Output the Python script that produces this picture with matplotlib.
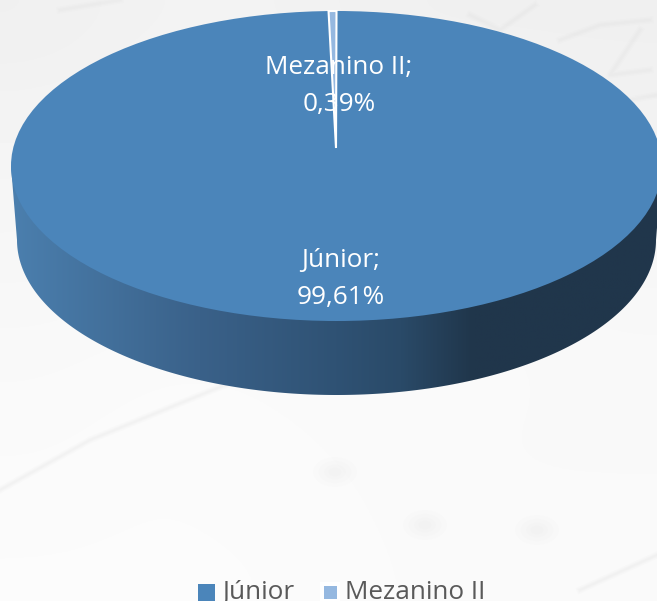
import numpy as np
import matplotlib
matplotlib.use('Agg')
import matplotlib.pyplot as plt
from matplotlib.colors import LinearSegmentedColormap
from matplotlib.patches import Ellipse, Polygon, Rectangle

categories = ['Júnior', 'Mezanino II']
shares = [99.61, 0.39]
share_labels = ['99,61%', '0,39%']

COLOR_JUNIOR = '#4b85ba'
COLOR_MEZ = '#95b8e0'
COLOR_TEXT = '#595959'

plt.rcParams['font.family'] = ['Open Sans', 'DejaVu Sans']

W, H = 657, 601
fig = plt.figure(figsize=(W / 100, H / 100), dpi=100)
ax = fig.add_axes([0, 0, 1, 1])
ax.axis('off')

# washed out paper background
bg = np.array([
    [0.94, 0.95, 0.95, 0.94, 0.94, 0.94],
    [0.96, 0.97, 0.97, 0.97, 0.96, 0.95],
    [0.965, 0.97, 0.97, 0.97, 0.97, 0.965],
    [0.975, 0.98, 0.98, 0.98, 0.98, 0.975],
    [0.98, 0.985, 0.98, 0.98, 0.975, 0.975],
    [0.985, 0.985, 0.985, 0.98, 0.98, 0.98],
])
ax.imshow(bg, cmap='gray', vmin=0, vmax=1, extent=[0, W, H, 0], aspect='auto',
          interpolation='bicubic', zorder=0)

# faint map strokes showing through the paper
strokes = [
    [(535, 5), (500, 30), (470, 15)],
    [(560, 40), (600, 25), (650, 20)],
    [(530, 45), (570, 70), (610, 110)],
    [(640, 30), (620, 60), (610, 75), (650, 70)],
    [(600, 130), (630, 100), (657, 95)],
    [(60, 10), (120, 0)],
    [(0, 490), (90, 440), (225, 385)],
    [(580, 590), (657, 555)],
]
for s in strokes:
    xs, ys = zip(*s)
    for lw in (5, 3, 1.5):
        ax.plot(xs, ys, color='#8c8c8c', alpha=0.018, lw=lw, zorder=0.5)
# soft smudges, built up from stacked ellipses
for bx, by in [(335, 472), (425, 525), (537, 530)]:
    for grow in (1.0, 0.75, 0.5, 0.3):
        ax.add_patch(Ellipse((bx, by), 44 * grow, 30 * grow, fc='#8c8c8c', ec='none',
                             alpha=0.012, zorder=0.5))

# pie geometry, in pixels
cx, cy, rx, ry = 336.5, 166, 325.5, 155
bot_cy, bot_rx = 240, 319.5
apex = (336, 148)

# side wall of the disc with horizontal gradient
t = np.linspace(np.pi, 0, 200)
side = np.column_stack([bot_rx * np.cos(t) + cx, ry * np.sin(t) + bot_cy])
side = np.vstack([[cx - rx, cy], side, [cx + rx, cy]])
side_cmap = LinearSegmentedColormap.from_list(
    'side', [(0, '#4b7fae'), (0.29, '#3a6189'), (0.5, '#2f5274'), (0.6, '#2a4a68'),
             (0.71, '#20364b'), (1, '#20364b')])
side_patch = Polygon(side, closed=True, fc='none', ec='none')
ax.add_patch(side_patch)
grad = ax.imshow(np.linspace(0, 1, 256)[None, :], cmap=side_cmap, aspect='auto',
                 extent=[cx - rx, cx + rx, 400, 160], zorder=1)
grad.set_clip_path(side_patch)
ax.set_xlim(0, W)
ax.set_ylim(H, 0)

# top face
ax.add_patch(Ellipse((cx, cy), 2 * rx, 2 * ry, fc=COLOR_JUNIOR, ec='none', zorder=2))

# Mezanino II slice ends at twelve o'clock
frac = shares[1] / sum(shares)
a = np.linspace(-2 * np.pi * frac, 0, 10)
rim = np.column_stack([cx + rx * np.sin(a), cy - ry * np.cos(a)])
ax.add_patch(Polygon(np.vstack([[apex], rim]), closed=True, fc=COLOR_MEZ, ec='white',
                     lw=1.5, zorder=3, joinstyle='miter'))

# data labels
ax.text(339, 86, f'{categories[1]};\n{share_labels[1]}', color='white', fontsize=18.8,
        ha='center', va='center', linespacing=1.66, zorder=4)
ax.text(341, 279, f'{categories[0]};\n{share_labels[0]}', color='white', fontsize=18.8,
        ha='center', va='center', linespacing=1.66, zorder=4)

# legend
ax.add_patch(Rectangle((198, 584), 17, 17, fc=COLOR_JUNIOR, ec='none', zorder=4))
ax.text(222, 599, categories[0], color=COLOR_TEXT, fontsize=18.8, ha='left', va='baseline', zorder=4)
ax.add_patch(Rectangle((320, 582), 20, 19, fc='white', ec='none', zorder=4))
ax.add_patch(Rectangle((324, 586), 13, 13, fc=COLOR_MEZ, ec='none', zorder=5))
ax.text(345, 599, categories[1], color=COLOR_TEXT, fontsize=18.8, ha='left', va='baseline', zorder=4)

fig.savefig('out.png', dpi=100)
